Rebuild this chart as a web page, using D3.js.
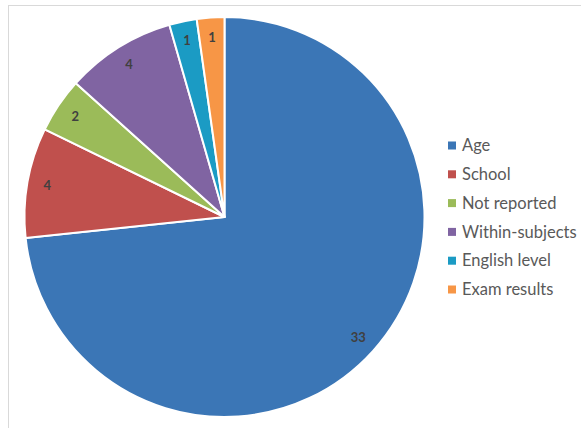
<!DOCTYPE html>
<html>
<head>
<meta charset="utf-8">
<script src="https://cdn.jsdelivr.net/npm/d3@7"></script>
<style>
  body { margin: 0; background: #fff; }
  svg { display: block; }
</style>
</head>
<body>
<svg id="chart" width="581" height="428"></svg>
<script>
// Categories and counts, in drawing order (clockwise from 12 o'clock)
const categories = ["Age", "School", "Not reported", "Within-subjects", "English level", "Exam results"];
const counts = [33, 4, 2, 4, 1, 1];
const colors = ["#3b76b6", "#c0504d", "#9bbb59", "#8064a2", "#1b9bc4", "#f79646"];

const svg = d3.select("#chart");
const W = 581, H = 428;

// Chart frame
svg.append("rect")
  .attr("x", 8.5).attr("y", 5.5)
  .attr("width", W + 10).attr("height", H + 10)
  .attr("fill", "none").attr("stroke", "#d9d9d9").attr("stroke-width", 1);

const cx = 224.5, cy = 217, R = 200;
const data = categories.map((c, i) => ({ name: c, value: counts[i], color: colors[i] }));

const pie = d3.pie().value(d => d.value).sort(null);
const arc = d3.arc().innerRadius(0).outerRadius(R);
const labelArc = d3.arc().innerRadius(R * 0.9).outerRadius(R * 0.9);

const g = svg.append("g").attr("transform", `translate(${cx},${cy})`);
const arcs = pie(data);

g.selectAll("path").data(arcs).join("path")
  .attr("d", arc)
  .attr("fill", d => d.data.color)
  .attr("stroke", "#fff")
  .attr("stroke-width", 2)
  .attr("stroke-linejoin", "round");

g.selectAll("text.val").data(arcs).join("text")
  .attr("class", "val")
  .attr("transform", d => `translate(${labelArc.centroid(d)})`)
  .attr("text-anchor", "middle")
  .attr("dy", "0.35em")
  .attr("font-family", "Lato, 'Open Sans', sans-serif")
  .attr("font-size", 13)
  .attr("font-weight", "bold")
  .attr("fill", "#404040")
  .text(d => d.data.value);

// Legend
const legend = svg.append("g").attr("transform", "translate(448,145.5)");
const rowH = 28.8;
const items = legend.selectAll("g").data(data).join("g")
  .attr("transform", (d, i) => `translate(0,${i * rowH})`);
items.append("rect")
  .attr("x", 0).attr("y", -4).attr("width", 8).attr("height", 8)
  .attr("fill", d => d.color);
items.append("text")
  .attr("x", 14).attr("y", 0).attr("dy", "0.35em")
  .attr("font-family", "Lato, 'Open Sans', sans-serif")
  .attr("font-size", 16.5)
  .attr("fill", "#595959")
  .text(d => d.name);
</script>
</body>
</html>
